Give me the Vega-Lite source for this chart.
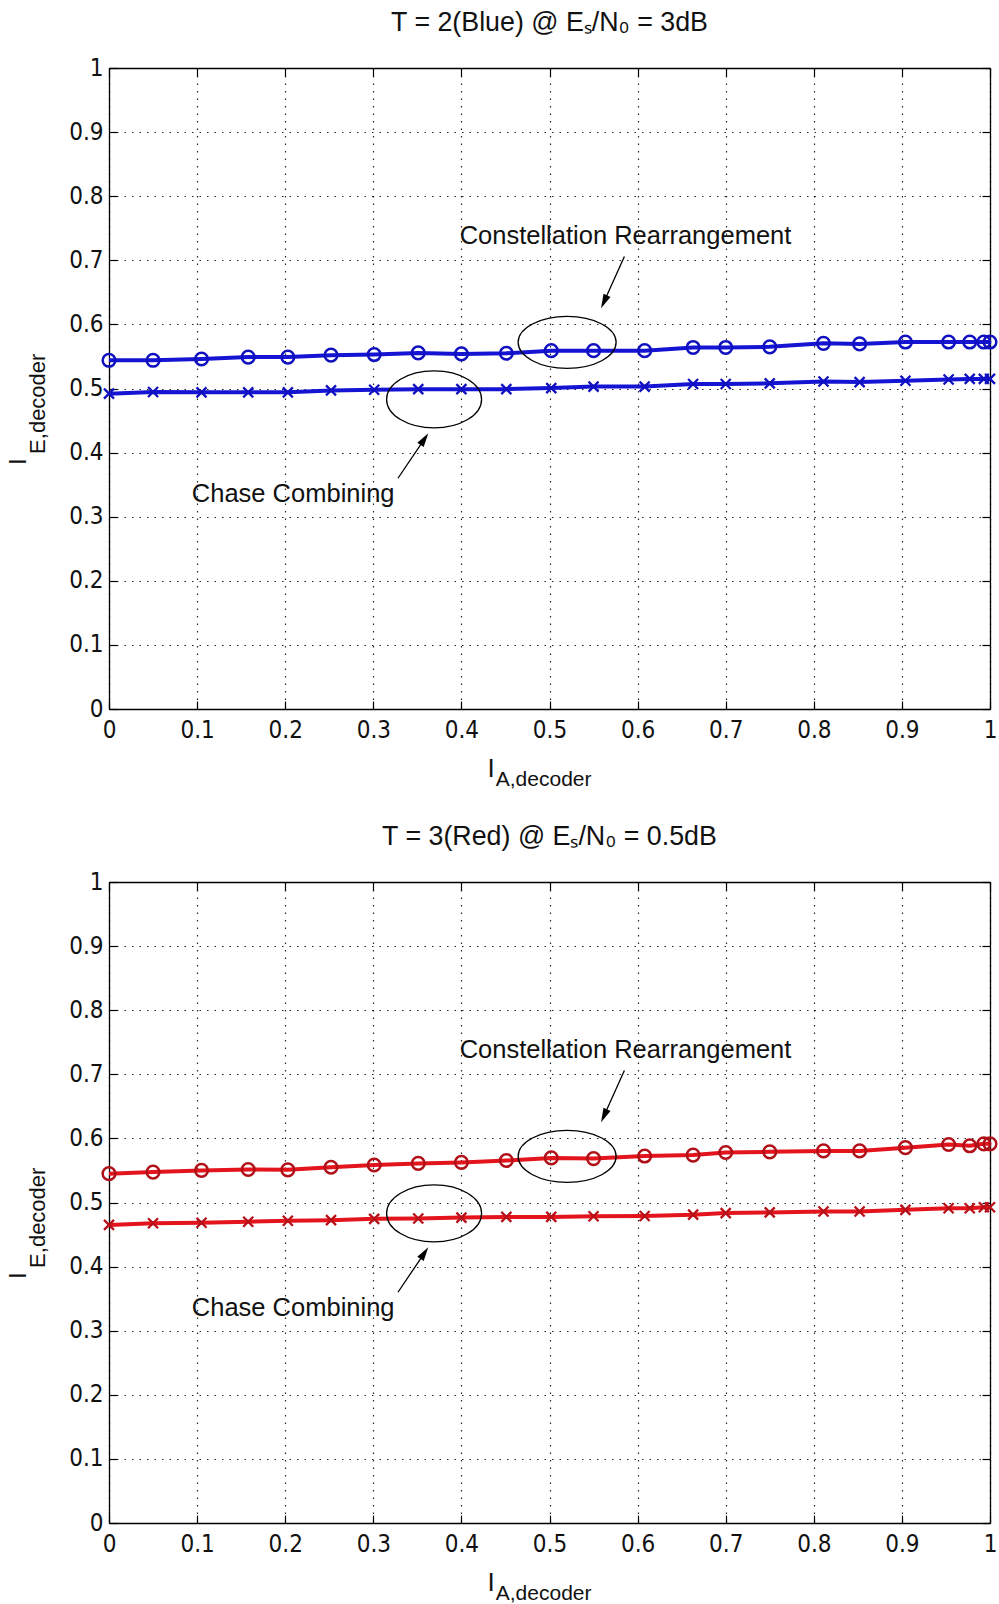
{
  "$schema": "https://vega.github.io/schema/vega-lite/v6.json",
  "background": "white",
  "padding": {"left": 7, "top": 10, "right": 4, "bottom": 4},
  "bounds": "flush",
  "spacing": 173,
  "config": {
    "view": {"stroke": null},
    "axis": {
      "labelFont": "Liberation Sans Narrow, DejaVu Sans Condensed, sans-serif",
      "labelFontSize": 24,
      "labelColor": "#111111",
      "labelFlush": false,
      "labelOverlap": false,
      "domainColor": "#000000",
      "domainWidth": 1.3,
      "tickColor": "#000000",
      "tickWidth": 1.2,
      "tickSize": -8,
      "gridColor": "#000000",
      "gridDash": [1.5, 6],
      "gridOpacity": 0.85,
      "gridWidth": 1.2,
      "title": null
    },
    "text": {"font": "Liberation Sans", "color": "#111111"},
    "title": {"font": "Liberation Sans", "fontSize": 26.8, "fontWeight": "normal", "color": "#111111", "anchor": "middle"}
  },
  "datasets": {
    "blue": [
      {"s": "cr", "x": 0, "y": 0.544}, {"s": "cr", "x": 0.05, "y": 0.544}, {"s": "cr", "x": 0.105, "y": 0.546}, {"s": "cr", "x": 0.158, "y": 0.549}, {"s": "cr", "x": 0.203, "y": 0.549}, {"s": "cr", "x": 0.252, "y": 0.552}, {"s": "cr", "x": 0.301, "y": 0.553}, {"s": "cr", "x": 0.351, "y": 0.5555}, {"s": "cr", "x": 0.4, "y": 0.554}, {"s": "cr", "x": 0.451, "y": 0.555}, {"s": "cr", "x": 0.502, "y": 0.559}, {"s": "cr", "x": 0.55, "y": 0.559}, {"s": "cr", "x": 0.608, "y": 0.559}, {"s": "cr", "x": 0.663, "y": 0.564}, {"s": "cr", "x": 0.7, "y": 0.564}, {"s": "cr", "x": 0.75, "y": 0.565}, {"s": "cr", "x": 0.811, "y": 0.5705}, {"s": "cr", "x": 0.852, "y": 0.5696}, {"s": "cr", "x": 0.904, "y": 0.5725}, {"s": "cr", "x": 0.953, "y": 0.5725}, {"s": "cr", "x": 0.977, "y": 0.5725}, {"s": "cr", "x": 0.993, "y": 0.5725}, {"s": "cr", "x": 1.0, "y": 0.5725},
      {"s": "cc", "x": 0, "y": 0.492}, {"s": "cc", "x": 0.05, "y": 0.4945}, {"s": "cc", "x": 0.105, "y": 0.494}, {"s": "cc", "x": 0.158, "y": 0.494}, {"s": "cc", "x": 0.203, "y": 0.494}, {"s": "cc", "x": 0.252, "y": 0.497}, {"s": "cc", "x": 0.301, "y": 0.498}, {"s": "cc", "x": 0.351, "y": 0.499}, {"s": "cc", "x": 0.4, "y": 0.499}, {"s": "cc", "x": 0.451, "y": 0.499}, {"s": "cc", "x": 0.502, "y": 0.5006}, {"s": "cc", "x": 0.55, "y": 0.503}, {"s": "cc", "x": 0.608, "y": 0.503}, {"s": "cc", "x": 0.663, "y": 0.507}, {"s": "cc", "x": 0.7, "y": 0.507}, {"s": "cc", "x": 0.75, "y": 0.508}, {"s": "cc", "x": 0.811, "y": 0.511}, {"s": "cc", "x": 0.852, "y": 0.51}, {"s": "cc", "x": 0.904, "y": 0.512}, {"s": "cc", "x": 0.953, "y": 0.514}, {"s": "cc", "x": 0.977, "y": 0.515}, {"s": "cc", "x": 0.993, "y": 0.515}, {"s": "cc", "x": 1.0, "y": 0.515}
    ],
    "red": [
      {"s": "cr", "x": 0, "y": 0.545}, {"s": "cr", "x": 0.05, "y": 0.5475}, {"s": "cr", "x": 0.105, "y": 0.55}, {"s": "cr", "x": 0.158, "y": 0.5515}, {"s": "cr", "x": 0.203, "y": 0.551}, {"s": "cr", "x": 0.252, "y": 0.555}, {"s": "cr", "x": 0.301, "y": 0.5585}, {"s": "cr", "x": 0.351, "y": 0.561}, {"s": "cr", "x": 0.4, "y": 0.5625}, {"s": "cr", "x": 0.451, "y": 0.5655}, {"s": "cr", "x": 0.502, "y": 0.5695}, {"s": "cr", "x": 0.55, "y": 0.5685}, {"s": "cr", "x": 0.608, "y": 0.5725}, {"s": "cr", "x": 0.663, "y": 0.574}, {"s": "cr", "x": 0.7, "y": 0.578}, {"s": "cr", "x": 0.75, "y": 0.579}, {"s": "cr", "x": 0.811, "y": 0.5805}, {"s": "cr", "x": 0.852, "y": 0.5805}, {"s": "cr", "x": 0.904, "y": 0.5855}, {"s": "cr", "x": 0.953, "y": 0.5905}, {"s": "cr", "x": 0.977, "y": 0.5885}, {"s": "cr", "x": 0.993, "y": 0.5915}, {"s": "cr", "x": 1.0, "y": 0.5915},
      {"s": "cc", "x": 0, "y": 0.465}, {"s": "cc", "x": 0.05, "y": 0.4676}, {"s": "cc", "x": 0.105, "y": 0.4685}, {"s": "cc", "x": 0.158, "y": 0.47}, {"s": "cc", "x": 0.203, "y": 0.4715}, {"s": "cc", "x": 0.252, "y": 0.4725}, {"s": "cc", "x": 0.301, "y": 0.4745}, {"s": "cc", "x": 0.351, "y": 0.475}, {"s": "cc", "x": 0.4, "y": 0.4765}, {"s": "cc", "x": 0.451, "y": 0.4775}, {"s": "cc", "x": 0.502, "y": 0.4775}, {"s": "cc", "x": 0.55, "y": 0.4785}, {"s": "cc", "x": 0.608, "y": 0.479}, {"s": "cc", "x": 0.663, "y": 0.481}, {"s": "cc", "x": 0.7, "y": 0.4835}, {"s": "cc", "x": 0.75, "y": 0.4845}, {"s": "cc", "x": 0.811, "y": 0.486}, {"s": "cc", "x": 0.852, "y": 0.486}, {"s": "cc", "x": 0.904, "y": 0.4885}, {"s": "cc", "x": 0.953, "y": 0.491}, {"s": "cc", "x": 0.977, "y": 0.491}, {"s": "cc", "x": 0.993, "y": 0.4925}, {"s": "cc", "x": 1.0, "y": 0.4925}
    ],
    "ellipses": [
      {"id": "cr", "x": 0.52, "y": 0.572},
      {"id": "cc", "x": 0.369, "y": 0.483}
    ],
    "arrows": [
      {"id": "cr", "x": 0.585, "y": 0.706, "x2": 0.5619, "y2": 0.6352},
      {"id": "cc", "x": 0.328, "y": 0.36, "x2": 0.358, "y2": 0.4211}
    ],
    "notes": [
      {"t": "Constellation Rearrangement", "x": 0.398, "y": 0.738},
      {"t": "Chase Combining", "x": 0.094, "y": 0.336}
    ],
    "axislabels": [
      {"k": "xi", "t": "I", "x": 0.4336, "y": -0.094},
      {"k": "xs", "t": "A,decoder", "x": 0.439, "y": -0.11},
      {"k": "yi", "t": "I", "x": -0.102, "y": 0.386},
      {"k": "ys", "t": "E,decoder", "x": -0.0806, "y": 0.398}
    ]
  },
  "vconcat": [
    {
      "width": 881,
      "height": 641,
      "title": {"text": "T = 2(Blue) @ Eₛ/N₀ = 3dB", "offset": 19},
      "resolve": {"axis": {"x": "independent", "y": "independent"}},
      "layer": [
        {
          "data": {"name": "blue"},
          "mark": {"type": "line", "color": "#1414d2", "strokeWidth": 4},
          "encoding": {
            "x": {"field": "x", "type": "quantitative", "scale": {"domain": [0, 1], "nice": false, "zero": false}, "axis": {"orient": "bottom", "values": [0, 0.1, 0.2, 0.3, 0.4, 0.5, 0.6, 0.7, 0.8, 0.9, 1], "format": ".1~f", "grid": true, "labelPadding": 17}},
            "y": {"field": "y", "type": "quantitative", "scale": {"domain": [0, 1], "nice": false, "zero": false}, "axis": {"orient": "left", "values": [0, 0.1, 0.2, 0.3, 0.4, 0.5, 0.6, 0.7, 0.8, 0.9, 1], "format": ".1~f", "grid": true, "labelPadding": 14}},
            "detail": {"field": "s"}
          }
        },
        {
          "data": {"name": "blue"},
          "transform": [{"filter": "datum.s === 'cr'"}],
          "mark": {"type": "point", "shape": "circle", "size": 160, "filled": false, "stroke": "#1010c0", "strokeWidth": 2.5, "opacity": 1},
          "encoding": {
            "x": {"field": "x", "type": "quantitative", "axis": {"orient": "top", "values": [0, 0.1, 0.2, 0.3, 0.4, 0.5, 0.6, 0.7, 0.8, 0.9, 1], "labels": false, "grid": false}},
            "y": {"field": "y", "type": "quantitative", "axis": {"orient": "right", "values": [0, 0.1, 0.2, 0.3, 0.4, 0.5, 0.6, 0.7, 0.8, 0.9, 1], "labels": false, "grid": false}}
          }
        },
        {
          "data": {"name": "blue"},
          "transform": [{"filter": "datum.s === 'cc'"}],
          "mark": {"type": "point", "shape": "M-1,-1L1,1M-1,1L1,-1", "size": 100, "filled": false, "stroke": "#1010c0", "strokeWidth": 2.3, "opacity": 1},
          "encoding": {
            "x": {"field": "x", "type": "quantitative", "axis": null},
            "y": {"field": "y", "type": "quantitative", "axis": null}
          }
        },
        {
          "data": {"name": "ellipses"},
          "transform": [{"filter": "datum.id === 'cr'"}],
          "mark": {"type": "point", "shape": "M-1,0C-1,-0.2926,-0.552,-0.53,0,-0.53C0.552,-0.53,1,-0.2926,1,0C1,0.2926,0.552,0.53,0,0.53C-0.552,0.53,-1,0.2926,-1,0Z", "size": 9604, "filled": false, "stroke": "#000000", "strokeWidth": 1.3, "opacity": 1},
          "encoding": {"x": {"field": "x", "type": "quantitative", "axis": null}, "y": {"field": "y", "type": "quantitative", "axis": null}}
        },
        {
          "data": {"name": "ellipses"},
          "transform": [{"filter": "datum.id === 'cc'"}],
          "mark": {"type": "point", "shape": "M-1,0C-1,-0.331,-0.552,-0.6,0,-0.6C0.552,-0.6,1,-0.331,1,0C1,0.331,0.552,0.6,0,0.6C-0.552,0.6,-1,0.331,-1,0Z", "size": 9025, "filled": false, "stroke": "#000000", "strokeWidth": 1.3, "opacity": 1},
          "encoding": {"x": {"field": "x", "type": "quantitative", "axis": null}, "y": {"field": "y", "type": "quantitative", "axis": null}}
        },
        {
          "data": {"name": "arrows"},
          "mark": {"type": "rule", "color": "#000000", "strokeWidth": 1.3},
          "encoding": {"x": {"field": "x", "type": "quantitative", "axis": null}, "y": {"field": "y", "type": "quantitative", "axis": null}, "x2": {"field": "x2"}, "y2": {"field": "y2"}}
        },
        {
          "data": {"name": "arrows"},
          "transform": [{"filter": "datum.id === 'cr'"}],
          "mark": {"type": "point", "shape": "M0,-1L0.55,1L-0.55,1Z", "size": 196, "filled": true, "color": "#000000", "opacity": 1, "angle": 205},
          "encoding": {"x": {"field": "x2", "type": "quantitative", "axis": null}, "y": {"field": "y2", "type": "quantitative", "axis": null}}
        },
        {
          "data": {"name": "arrows"},
          "transform": [{"filter": "datum.id === 'cc'"}],
          "mark": {"type": "point", "shape": "M0,-1L0.55,1L-0.55,1Z", "size": 196, "filled": true, "color": "#000000", "opacity": 1, "angle": 34},
          "encoding": {"x": {"field": "x2", "type": "quantitative", "axis": null}, "y": {"field": "y2", "type": "quantitative", "axis": null}}
        },
        {
          "data": {"name": "notes"},
          "mark": {"type": "text", "align": "left", "baseline": "middle", "fontSize": 25.5},
          "encoding": {"x": {"field": "x", "type": "quantitative", "axis": null}, "y": {"field": "y", "type": "quantitative", "axis": null}, "text": {"field": "t"}}
        },
        {
          "data": {"name": "axislabels"},
          "transform": [{"filter": "datum.k === 'xi'"}],
          "mark": {"type": "text", "align": "center", "baseline": "middle", "fontSize": 26},
          "encoding": {"x": {"field": "x", "type": "quantitative", "axis": null}, "y": {"field": "y", "type": "quantitative", "axis": null}, "text": {"field": "t"}}
        },
        {
          "data": {"name": "axislabels"},
          "transform": [{"filter": "datum.k === 'xs'"}],
          "mark": {"type": "text", "align": "left", "baseline": "middle", "fontSize": 21},
          "encoding": {"x": {"field": "x", "type": "quantitative", "axis": null}, "y": {"field": "y", "type": "quantitative", "axis": null}, "text": {"field": "t"}}
        },
        {
          "data": {"name": "axislabels"},
          "transform": [{"filter": "datum.k === 'yi'"}],
          "mark": {"type": "text", "align": "center", "baseline": "middle", "fontSize": 24, "angle": 270},
          "encoding": {"x": {"field": "x", "type": "quantitative", "axis": null}, "y": {"field": "y", "type": "quantitative", "axis": null}, "text": {"field": "t"}}
        },
        {
          "data": {"name": "axislabels"},
          "transform": [{"filter": "datum.k === 'ys'"}],
          "mark": {"type": "text", "align": "left", "baseline": "middle", "fontSize": 22, "angle": 270},
          "encoding": {"x": {"field": "x", "type": "quantitative", "axis": null}, "y": {"field": "y", "type": "quantitative", "axis": null}, "text": {"field": "t"}}
        }
      ]
    },
    {
      "width": 881,
      "height": 641,
      "title": {"text": "T = 3(Red) @ Eₛ/N₀ = 0.5dB", "offset": 19},
      "resolve": {"axis": {"x": "independent", "y": "independent"}},
      "layer": [
        {
          "data": {"name": "red"},
          "mark": {"type": "line", "color": "#e3141c", "strokeWidth": 4},
          "encoding": {
            "x": {"field": "x", "type": "quantitative", "scale": {"domain": [0, 1], "nice": false, "zero": false}, "axis": {"orient": "bottom", "values": [0, 0.1, 0.2, 0.3, 0.4, 0.5, 0.6, 0.7, 0.8, 0.9, 1], "format": ".1~f", "grid": true, "labelPadding": 17}},
            "y": {"field": "y", "type": "quantitative", "scale": {"domain": [0, 1], "nice": false, "zero": false}, "axis": {"orient": "left", "values": [0, 0.1, 0.2, 0.3, 0.4, 0.5, 0.6, 0.7, 0.8, 0.9, 1], "format": ".1~f", "grid": true, "labelPadding": 14}},
            "detail": {"field": "s"}
          }
        },
        {
          "data": {"name": "red"},
          "transform": [{"filter": "datum.s === 'cr'"}],
          "mark": {"type": "point", "shape": "circle", "size": 160, "filled": false, "stroke": "#b01018", "strokeWidth": 2.5, "opacity": 1},
          "encoding": {
            "x": {"field": "x", "type": "quantitative", "axis": {"orient": "top", "values": [0, 0.1, 0.2, 0.3, 0.4, 0.5, 0.6, 0.7, 0.8, 0.9, 1], "labels": false, "grid": false}},
            "y": {"field": "y", "type": "quantitative", "axis": {"orient": "right", "values": [0, 0.1, 0.2, 0.3, 0.4, 0.5, 0.6, 0.7, 0.8, 0.9, 1], "labels": false, "grid": false}}
          }
        },
        {
          "data": {"name": "red"},
          "transform": [{"filter": "datum.s === 'cc'"}],
          "mark": {"type": "point", "shape": "M-1,-1L1,1M-1,1L1,-1", "size": 100, "filled": false, "stroke": "#b81018", "strokeWidth": 2.3, "opacity": 1},
          "encoding": {
            "x": {"field": "x", "type": "quantitative", "axis": null},
            "y": {"field": "y", "type": "quantitative", "axis": null}
          }
        },
        {
          "data": {"name": "ellipses"},
          "transform": [{"filter": "datum.id === 'cr'"}],
          "mark": {"type": "point", "shape": "M-1,0C-1,-0.2926,-0.552,-0.53,0,-0.53C0.552,-0.53,1,-0.2926,1,0C1,0.2926,0.552,0.53,0,0.53C-0.552,0.53,-1,0.2926,-1,0Z", "size": 9604, "filled": false, "stroke": "#000000", "strokeWidth": 1.3, "opacity": 1},
          "encoding": {"x": {"field": "x", "type": "quantitative", "axis": null}, "y": {"field": "y", "type": "quantitative", "axis": null}}
        },
        {
          "data": {"name": "ellipses"},
          "transform": [{"filter": "datum.id === 'cc'"}],
          "mark": {"type": "point", "shape": "M-1,0C-1,-0.331,-0.552,-0.6,0,-0.6C0.552,-0.6,1,-0.331,1,0C1,0.331,0.552,0.6,0,0.6C-0.552,0.6,-1,0.331,-1,0Z", "size": 9025, "filled": false, "stroke": "#000000", "strokeWidth": 1.3, "opacity": 1},
          "encoding": {"x": {"field": "x", "type": "quantitative", "axis": null}, "y": {"field": "y", "type": "quantitative", "axis": null}}
        },
        {
          "data": {"name": "arrows"},
          "mark": {"type": "rule", "color": "#000000", "strokeWidth": 1.3},
          "encoding": {"x": {"field": "x", "type": "quantitative", "axis": null}, "y": {"field": "y", "type": "quantitative", "axis": null}, "x2": {"field": "x2"}, "y2": {"field": "y2"}}
        },
        {
          "data": {"name": "arrows"},
          "transform": [{"filter": "datum.id === 'cr'"}],
          "mark": {"type": "point", "shape": "M0,-1L0.55,1L-0.55,1Z", "size": 196, "filled": true, "color": "#000000", "opacity": 1, "angle": 205},
          "encoding": {"x": {"field": "x2", "type": "quantitative", "axis": null}, "y": {"field": "y2", "type": "quantitative", "axis": null}}
        },
        {
          "data": {"name": "arrows"},
          "transform": [{"filter": "datum.id === 'cc'"}],
          "mark": {"type": "point", "shape": "M0,-1L0.55,1L-0.55,1Z", "size": 196, "filled": true, "color": "#000000", "opacity": 1, "angle": 34},
          "encoding": {"x": {"field": "x2", "type": "quantitative", "axis": null}, "y": {"field": "y2", "type": "quantitative", "axis": null}}
        },
        {
          "data": {"name": "notes"},
          "mark": {"type": "text", "align": "left", "baseline": "middle", "fontSize": 25.5},
          "encoding": {"x": {"field": "x", "type": "quantitative", "axis": null}, "y": {"field": "y", "type": "quantitative", "axis": null}, "text": {"field": "t"}}
        },
        {
          "data": {"name": "axislabels"},
          "transform": [{"filter": "datum.k === 'xi'"}],
          "mark": {"type": "text", "align": "center", "baseline": "middle", "fontSize": 26},
          "encoding": {"x": {"field": "x", "type": "quantitative", "axis": null}, "y": {"field": "y", "type": "quantitative", "axis": null}, "text": {"field": "t"}}
        },
        {
          "data": {"name": "axislabels"},
          "transform": [{"filter": "datum.k === 'xs'"}],
          "mark": {"type": "text", "align": "left", "baseline": "middle", "fontSize": 21},
          "encoding": {"x": {"field": "x", "type": "quantitative", "axis": null}, "y": {"field": "y", "type": "quantitative", "axis": null}, "text": {"field": "t"}}
        },
        {
          "data": {"name": "axislabels"},
          "transform": [{"filter": "datum.k === 'yi'"}],
          "mark": {"type": "text", "align": "center", "baseline": "middle", "fontSize": 24, "angle": 270},
          "encoding": {"x": {"field": "x", "type": "quantitative", "axis": null}, "y": {"field": "y", "type": "quantitative", "axis": null}, "text": {"field": "t"}}
        },
        {
          "data": {"name": "axislabels"},
          "transform": [{"filter": "datum.k === 'ys'"}],
          "mark": {"type": "text", "align": "left", "baseline": "middle", "fontSize": 22, "angle": 270},
          "encoding": {"x": {"field": "x", "type": "quantitative", "axis": null}, "y": {"field": "y", "type": "quantitative", "axis": null}, "text": {"field": "t"}}
        }
      ]
    }
  ]
}
